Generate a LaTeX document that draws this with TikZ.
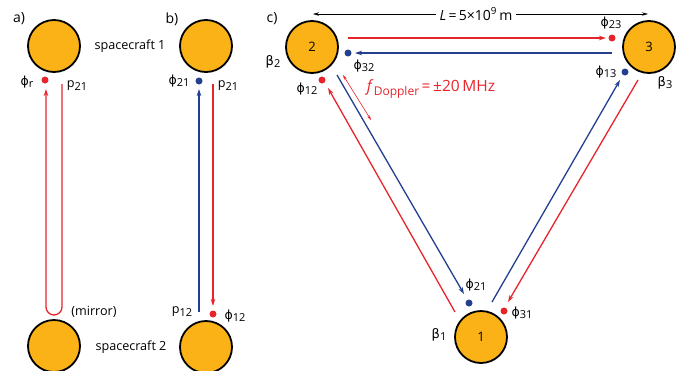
\documentclass[tikz,border=0pt]{standalone}
\usepackage{fontspec}
\setmainfont{Open Sans}
\newfontfamily\gk{DejaVu Sans}
\usetikzlibrary{arrows.meta}
\definecolor{orb}{HTML}{FBB216}
\definecolor{lred}{HTML}{E8242B}
\definecolor{lblue}{HTML}{233F8F}
\newcommand\sbs[1]{\raisebox{-0.35ex}{\fontsize{11}{12}\selectfont #1}}
\newcommand\gph{{\gk\fontsize{12.5}{14}\selectfont ϕ}}
\newcommand\gbt{{\gk\fontsize{13}{14}\selectfont β}}
\begin{document}
\begin{tikzpicture}[x=1pt,y=-1pt, font=\fontsize{12.6}{14}\selectfont,
 sc/.style={circle,draw=black,line width=1.8pt,fill=orb,minimum size=52pt,inner sep=0pt,font=\fontsize{13}{14}\selectfont},
 rdot/.style={circle,fill=lred,inner sep=0pt,minimum size=7pt},
 bdot/.style={circle,fill=lblue,inner sep=0pt,minimum size=7pt},
 rl/.style={draw=lred,line width=1.3pt},
 bl/.style={draw=lblue,line width=1.3pt},
 tip/.style={-{Stealth[length=7pt,width=4.5pt]}},
 lab/.style={inner sep=0pt}]
\useasboundingbox (0,0) rectangle (688,370);
% panel labels
\node[lab,font=\fontsize{14}{15}\selectfont] (pa) at (19,19) {a)};
\node[lab,font=\fontsize{14}{15}\selectfont] (pb) at (172,19) {b)};
\node[lab,font=\fontsize{14}{15}\selectfont] (pc) at (272,19) {c)};
% ---------- panel a
\node[sc] (a1) at (54,46) {};
\node[sc] (a2) at (54,346) {};
\node[lab] (a1t) at (130,46) {spacecraft 1};
\node[lab] (a2t) at (131,347) {spacecraft 2};
\node[rdot] (ar) at (45,80) {};
\node[lab] (aphi) at (27,82) {\gph\sbs{r}};
\node[lab] (ap) at (77,86) {p\sbs{21}};
\node[lab] (am) at (94,312) {(mirror)};
\coordinate (aS) at (62,84);
\coordinate (aE) at (46,89);
\draw[rl,tip,rounded corners=8pt] (aS) -- (62,315) -- (46,315) -- (aE);
% ---------- panel b
\node[sc] (b1) at (206,46) {};
\node[sc] (b2) at (206,347) {};
\node[bdot] (bb) at (199,81) {};
\node[rdot] (br) at (213,314) {};
\node[lab] (bphi21) at (179,81) {\gph\sbs{21}};
\node[lab] (bp21) at (228,86) {p\sbs{21}};
\node[lab] (bp12) at (182,312) {p\sbs{12}};
\node[lab] (bphi12) at (235,316) {\gph\sbs{12}};
\coordinate (bbS) at (199,312);
\coordinate (bbE) at (199,89);
\coordinate (brS) at (213,84);
\coordinate (brE) at (213,306);
\draw[bl,tip] (bbS) -- (bbE);
\draw[rl,tip] (brS) -- (brE);
% ---------- panel c
\node[sc] (c2) at (312,47) {2};
\node[sc] (c3) at (649,47) {3};
\node[sc] (c1) at (481,337) {1};
\node[lab] (beta2) at (273,62) {\gbt\sbs{2}};
\node[lab] (beta3) at (665,83) {\gbt\sbs{3}};
\node[lab] (beta1) at (439,335) {\gbt\sbs{1}};
\node[rdot] (d12) at (322,80) {};
\node[bdot] (d32) at (348,53) {};
\node[rdot] (d23) at (612,38) {};
\node[bdot] (d13) at (625,72) {};
\node[bdot] (d21) at (469,303) {};
\node[rdot] (d31) at (504,311) {};
\node[lab] (l12) at (307,89) {\gph\sbs{12}};
\node[lab] (l32) at (364,66) {\gph\sbs{32}};
\node[lab] (l23) at (611,23) {\gph\sbs{23}};
\node[lab] (l13) at (606,72) {\gph\sbs{13}};
\node[lab] (l21) at (476,285) {\gph\sbs{21}};
\node[lab] (l31) at (522,313) {\gph\sbs{31}};
% L arrow
\node[inner sep=3pt,font=\fontsize{14}{15}\selectfont] (Lt) at (476,14) {\textit{L}\,=\,5×10\textsuperscript{9}\,m};
\coordinate (Ll) at (313,14);
\coordinate (Lr) at (648,14);
\draw[line width=0.8pt,-{Stealth[length=6pt,width=3.5pt]}] (Lt.west) -- (Ll);
\draw[line width=0.8pt,-{Stealth[length=6pt,width=3.5pt]}] (Lt.east) -- (Lr);
% Doppler
\node[lab,text=lred,font=\fontsize{15.5}{17}\selectfont] (dop) at (431,89) {\textit{f}\raisebox{-0.4ex}{\fontsize{12}{13}\selectfont Doppler}\,=\,±20\,MHz};
\coordinate (dA) at (343,75);
\coordinate (dB) at (371,120);
\draw[draw=lred,line width=0.6pt,{Stealth[length=5pt,width=3pt]}-{Stealth[length=5pt,width=3pt]}] (dA) -- (dB);
% links
\coordinate (r23S) at (348,38); \coordinate (r23E) at (606,38);
\coordinate (b32S) at (612,53); \coordinate (b32E) at (355,53);
\coordinate (r12S) at (455,312); \coordinate (r12E) at (328,88);
\coordinate (b21S) at (337,75); \coordinate (b21E) at (464,294);
\coordinate (b13S) at (492,302); \coordinate (b13E) at (620,80);
\coordinate (r31S) at (638,80); \coordinate (r31E) at (508,302);
\draw[rl,tip] (r23S) -- (r23E);
\draw[bl,tip] (b32S) -- (b32E);
\draw[rl,tip] (r12S) -- (r12E);
\draw[bl,tip] (b21S) -- (b21E);
\draw[bl,tip] (b13S) -- (b13E);
\draw[rl,tip] (r31S) -- (r31E);
\end{tikzpicture}
\end{document}
